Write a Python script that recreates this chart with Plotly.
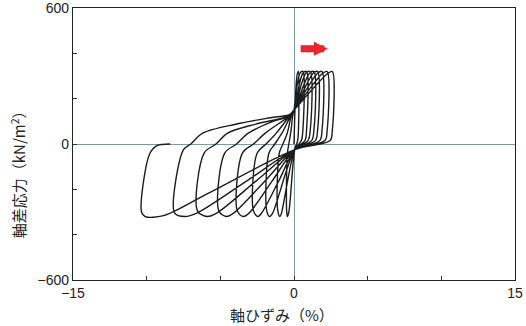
import plotly.graph_objects as go

# 軸ひずみ (%) / 軸差応力 (kN/m2), one loop per cycle
loop1_strain = [0.0, 0.2, 0.3, 0.3, 0.25, 0.05, -0.35, -0.45, -0.5, -0.45, -0.35, -0.2, -0.1]
loop1_stress = [0, 300, 320, 60, 15, -25, -300, -320, -295, -40, 0, 60, 120]

loop2_strain = [0.0, 0.4, 0.6, 0.6, 0.5, 0.05, -0.85, -0.95, -1.1, -1.0, -0.75, -0.45, -0.2]
loop2_stress = [150, 312, 320, 60, 15, -25, -305, -320, -295, -40, 0, 50, 120]

loop3_strain = [0.0, 0.6, 0.85, 0.85, 0.75, 0.05, -1.45, -1.65, -1.85, -1.7, -1.3, -0.8, -0.25]
loop3_stress = [150, 312, 320, 60, 15, -25, -305, -320, -295, -40, 0, 50, 122]

loop4_strain = [0.0, 0.8, 1.1, 1.1, 0.95, 0.05, -1.05, -2.2, -2.45, -2.75, -2.5, -1.9, -1.2, -0.3]
loop4_stress = [150, 312, 320, 60, 15, -25, -165, -305, -320, -295, -40, 0, 48, 124]

loop5_strain = [0.0, 1.05, 1.35, 1.35, 1.2, 0.05, -1.5, -3.05, -3.45, -3.85, -3.5, -2.75, -1.95, -0.3]
loop5_stress = [150, 312, 320, 60, 15, -25, -165, -305, -320, -295, -40, 0, 48, 125]

loop6_strain = [0.0, 1.3, 1.6, 1.6, 1.45, 0.05, -2.0, -4.1, -4.6, -5.1, -4.7, -3.9, -3.1, -1.6, -0.3]
loop6_stress = [150, 312, 320, 60, 15, -25, -165, -305, -320, -295, -40, 0, 48, 95, 125]

loop7_strain = [0.0, 1.6, 1.9, 1.9, 1.75, 0.05, -2.6, -5.25, -5.9, -6.55, -6.1, -5.3, -4.5, -2.6, -0.3]
loop7_stress = [150, 312, 320, 60, 15, -25, -165, -305, -320, -295, -40, 0, 48, 88, 125]

loop8_strain = [0.0, 1.95, 2.25, 2.25, 2.1, 0.05, -3.25, -6.6, -7.4, -8.1, -7.5, -7.0, -6.2, -3.9, -1.6, -0.3]
loop8_stress = [150, 312, 320, 60, 15, -25, -165, -305, -320, -305, -25, 0, 48, 88, 116, 130]

loop9_strain = [0.0, 2.3, 2.6, 2.6, 2.45, 0.05, -5.9, -8.85, -10.1, -10.35, -9.8, -9.3, -8.4]
loop9_stress = [150, 312, 320, 60, 15, -25, -220, -316, -320, -300, -44, -7, 0]

x_ticks = [-15, -10, -5, 0, 5, 10, 15]
x_labels = ['−15', '', '', '0', '', '', '15']
y_ticks = [-600, -400, -200, 0, 200, 400, 600]
y_labels = ['−600', '', '', '0', '', '', '600']

loops = [
    (loop1_strain, loop1_stress), (loop2_strain, loop2_stress), (loop3_strain, loop3_stress),
    (loop4_strain, loop4_stress), (loop5_strain, loop5_stress), (loop6_strain, loop6_stress),
    (loop7_strain, loop7_stress), (loop8_strain, loop8_stress), (loop9_strain, loop9_stress),
]
strain = []
stress = []
for xs, ys in loops:
    strain += xs
    stress += ys

fig = go.Figure()
fig.add_trace(go.Scatter(x=strain, y=stress, mode='lines',
                         line=dict(color='#1c1c1c', width=1.4, shape='spline', smoothing=0.9),
                         showlegend=False, hoverinfo='skip'))

# red arrow above the compression peaks
fig.add_annotation(x=2.3, y=420, ax=0.35, ay=420, xref='x', yref='y', axref='x', ayref='y',
                   text='', showarrow=True, arrowhead=2, arrowsize=0.4, arrowwidth=7,
                   arrowcolor='#e8262b')

# axis titles sit a bit off-centre in the original, so place them by hand
fig.add_annotation(text='軸ひずみ（%）', xref='paper', yref='paper', x=0.473, y=0,
                   xanchor='center', yanchor='middle', yshift=-34,
                   showarrow=False, font=dict(size=15))
fig.add_annotation(text='軸差応力（kN/m<sup>2</sup>）', xref='paper', yref='paper', x=0, y=0.40,
                   xanchor='center', yanchor='middle', xshift=-55, textangle=-90,
                   showarrow=False, font=dict(size=15))

axis_font = dict(family='Liberation Sans, Arial, sans-serif', size=14, color='#222')
fig.update_layout(
    width=526, height=326,
    margin=dict(l=73, r=11, t=8, b=46),
    paper_bgcolor='white', plot_bgcolor='white',
    font=dict(family='Noto Sans CJK JP, Liberation Sans, sans-serif', size=14, color='#222'),
    xaxis=dict(range=[-15, 15], tickvals=x_ticks, ticktext=x_labels, ticks='inside', ticklen=4,
               tickcolor='#333', showgrid=False, zeroline=True, zerolinecolor='#7f96a6',
               zerolinewidth=1, showline=True, linecolor='#222', linewidth=1.2, mirror=True,
               tickfont=axis_font, automargin=False, ticklabeloverflow='allow'),
    yaxis=dict(range=[-600, 600], tickvals=y_ticks, ticktext=y_labels, ticks='inside', ticklen=4,
               tickcolor='#333', showgrid=False, zeroline=True, zerolinecolor='#7f96a6',
               zerolinewidth=1, showline=True, linecolor='#222', linewidth=1.2, mirror=True,
               tickfont=axis_font, automargin=False, ticklabeloverflow='allow'),
)

# page body margin would shift the figure by 8px
fig.write_html('out.html', config={'displayModeBar': False},
               post_script="document.body.style.margin='0';")
